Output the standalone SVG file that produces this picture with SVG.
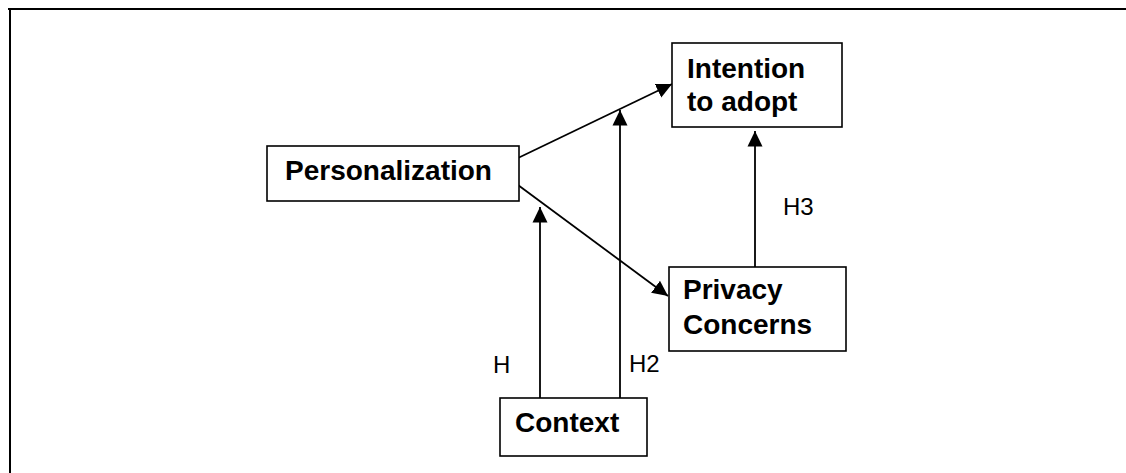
<svg xmlns="http://www.w3.org/2000/svg" width="1126" height="473" viewBox="0 0 1126 473">
<style>
.box{fill:#fff;stroke:#000;stroke-width:1.6}
.t{font-family:"Liberation Sans",Arial,sans-serif;font-weight:bold;font-size:28px;fill:#000}
.l{font-family:"Liberation Sans",Arial,sans-serif;font-size:24px;fill:#000}
.c{stroke:#000;stroke-width:1.8;fill:none;marker-end:url(#ah)}
</style>
<defs>
<marker id="ah" markerUnits="userSpaceOnUse" markerWidth="16" markerHeight="16" viewBox="0 0 16 16" refX="15.5" refY="8" orient="auto">
<path d="M0,0.5 L15.5,8 L0,15.5 Z" fill="#000"/>
</marker>
</defs>
<rect width="1126" height="473" fill="#fff"/>
<g id="frame">
<line x1="8" y1="9" x2="1126" y2="9" stroke="#000" stroke-width="2"/>
<line x1="10" y1="8" x2="10" y2="473" stroke="#000" stroke-width="2"/>
</g>
<g id="connectors">
<line class="c" x1="518" y1="158" x2="672" y2="84"/>
<line class="c" x1="518" y1="185" x2="668" y2="296"/>
<line class="c" x1="540" y1="398" x2="540" y2="207"/>
<line class="c" x1="620" y1="398" x2="620" y2="110"/>
<line class="c" x1="755" y1="267" x2="755" y2="131"/>
<text class="l" x="493" y="373">H</text>
<text class="l" x="629" y="372">H2</text>
<text class="l" x="783" y="215">H3</text>
</g>
<g id="intention">
<rect class="box" x="672" y="43" width="170" height="84"/>
<text class="t" x="687" y="78">Intention</text>
<text class="t" x="687" y="111">to adopt</text>
</g>
<g id="personalization">
<rect class="box" x="267" y="146" width="252" height="55"/>
<text class="t" x="285" y="180">Personalization</text>
</g>
<g id="privacy">
<rect class="box" x="669" y="267" width="177" height="84"/>
<text class="t" x="683" y="299">Privacy</text>
<text class="t" x="683" y="334">Concerns</text>
</g>
<g id="context">
<rect class="box" x="500" y="398" width="147" height="58"/>
<text class="t" x="515" y="432">Context</text>
</g>
</svg>
